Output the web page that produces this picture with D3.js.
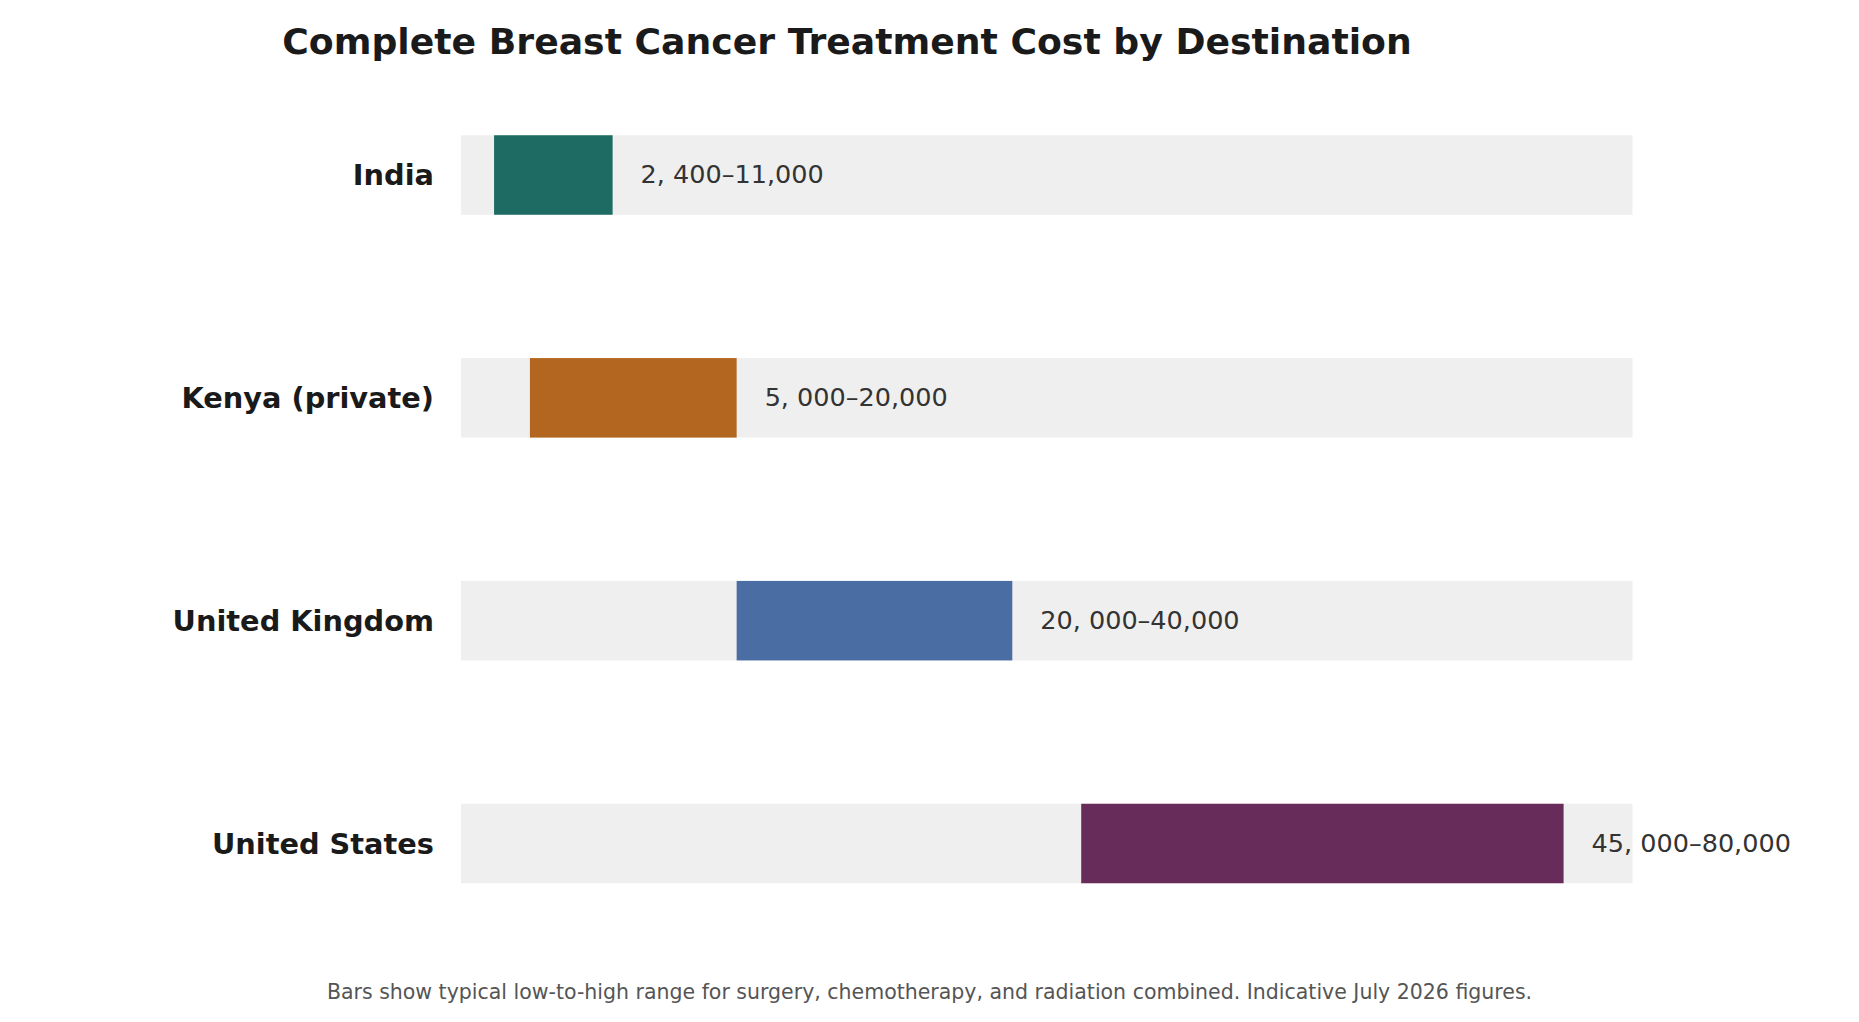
<!DOCTYPE html>
<html>
<head>
<meta charset="utf-8">
<script src="https://cdn.jsdelivr.net/npm/d3@7"></script>
<style>
  html, body { margin: 0; padding: 0; background: #fff; }
  svg { display: block; font-family: "DejaVu Sans", sans-serif; }
</style>
</head>
<body>
<div id="chart"></div>
<script>
const countries = ["India", "Kenya (private)", "United Kingdom", "United States"];
const lowCost = [2400, 5000, 20000, 45000];
const highCost = [11000, 20000, 40000, 80000];
const rangeLabels = ["2, 400–11,000", "5, 000–20,000", "20, 000–40,000", "45, 000–80,000"];
const barColors = ["#1d6b62", "#b3661f", "#4a6ea4", "#682c5b"];

const width = 1859, height = 1022;

const svg = d3.select("#chart")
  .append("svg")
    .attr("width", width)
    .attr("height", height);

const x = d3.scaleLinear()
  .domain([0, 85000])
  .range([461, 1632.5]);

const y = d3.scalePoint()
  .domain(countries)
  .range([175, 843.5]);

const barH = 79.5;

const rows = countries.map((c, i) => ({
  country: c, lo: lowCost[i], hi: highCost[i], label: rangeLabels[i], color: barColors[i]
}));

// grey full-range track
svg.selectAll("rect.track")
  .data(rows)
  .join("rect")
    .attr("class", "track")
    .attr("x", x(0))
    .attr("y", d => y(d.country) - barH / 2)
    .attr("width", x(85000) - x(0))
    .attr("height", barH)
    .attr("fill", "#efefef");

svg.selectAll("rect.bar")
  .data(rows)
  .join("rect")
    .attr("class", "bar")
    .attr("x", d => x(d.lo))
    .attr("y", d => y(d.country) - barH / 2)
    .attr("width", d => x(d.hi) - x(d.lo))
    .attr("height", barH)
    .attr("fill", d => d.color);

svg.selectAll("text.cat")
  .data(rows)
  .join("text")
    .attr("class", "cat")
    .attr("x", 434)
    .attr("y", d => y(d.country))
    .attr("dy", "0.36em")
    .attr("text-anchor", "end")
    .attr("font-size", 28.8)
    .attr("font-weight", "bold")
    .attr("fill", "#1a1a1a")
    .text(d => d.country);

svg.selectAll("text.val")
  .data(rows)
  .join("text")
    .attr("class", "val")
    .attr("x", d => x(d.hi) + 28)
    .attr("y", d => y(d.country))
    .attr("dy", "0.33em")
    .attr("font-size", 25.5)
    .attr("fill", "#333")
    .text(d => d.label);

svg.append("text")
  .attr("x", 847)
  .attr("y", 54)
  .attr("text-anchor", "middle")
  .attr("font-size", 36.2)
  .attr("font-weight", "bold")
  .attr("fill", "#1a1a1a")
  .text("Complete Breast Cancer Treatment Cost by Destination");

svg.append("text")
  .attr("x", 929.5)
  .attr("y", 999)
  .attr("text-anchor", "middle")
  .attr("font-size", 20.5)
  .attr("fill", "#555")
  .text("Bars show typical low-to-high range for surgery, chemotherapy, and radiation combined. Indicative July 2026 figures.");
</script>
</body>
</html>
